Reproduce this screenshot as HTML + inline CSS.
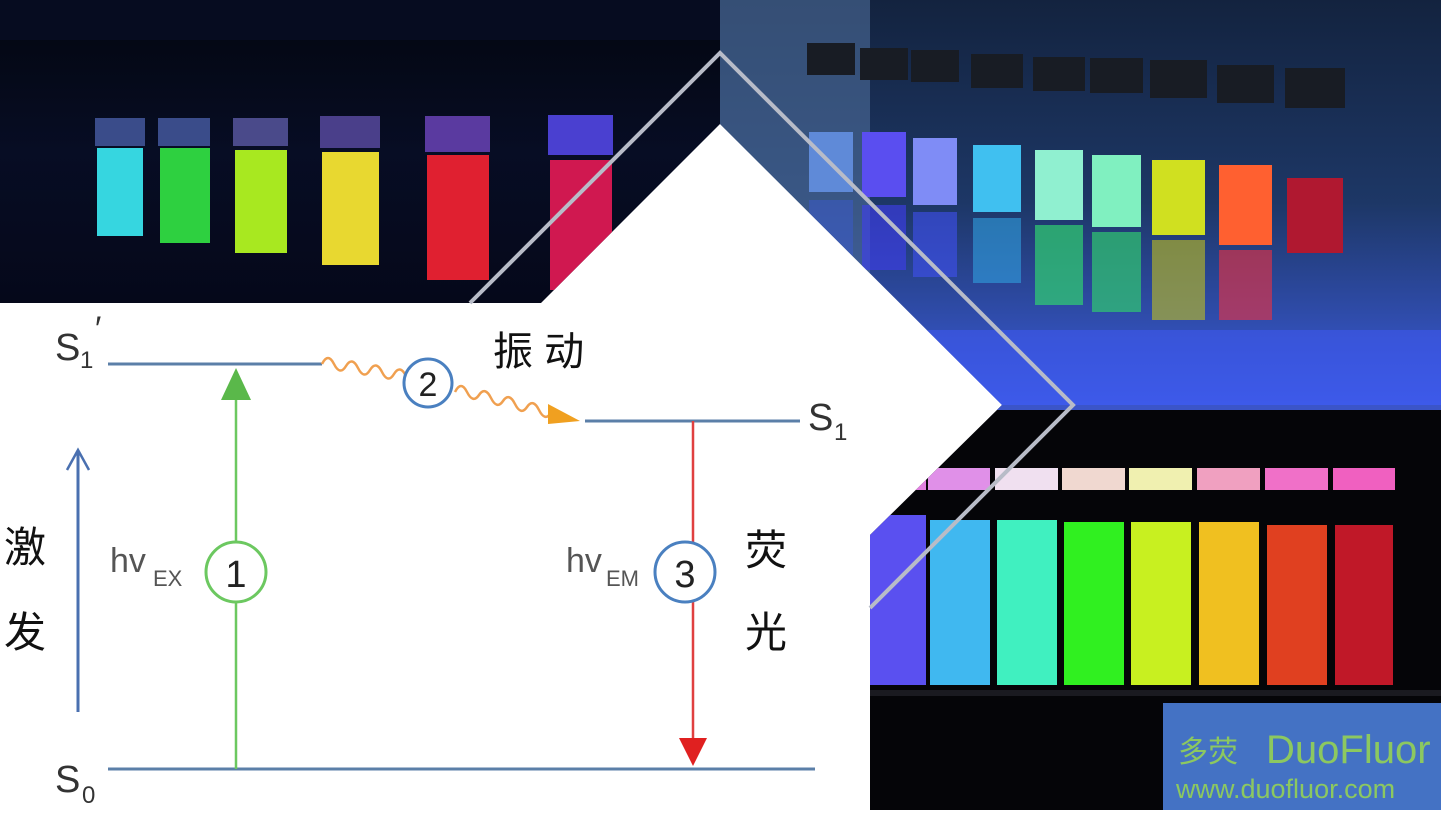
<!DOCTYPE html>
<html><head><meta charset="utf-8"><style>
html,body{margin:0;padding:0;background:#fff;width:1441px;height:822px;overflow:hidden}
svg{display:block}
text{font-family:"Liberation Sans","Noto Sans CJK SC",sans-serif}
</style></head><body>
<svg width="1441" height="822" viewBox="0 0 1441 822" xmlns="http://www.w3.org/2000/svg">
<defs>
<linearGradient id="tr" x1="0" y1="0" x2="0" y2="1">
<stop offset="0" stop-color="#13233f"/><stop offset="0.5" stop-color="#1d3766"/><stop offset="1" stop-color="#3d5ce0"/></linearGradient>
<linearGradient id="tl" x1="0" y1="0" x2="0" y2="1">
<stop offset="0" stop-color="#03060f"/><stop offset="0.5" stop-color="#070d24"/><stop offset="1" stop-color="#05081a"/></linearGradient>
<clipPath id="ctl"><polygon points="0,0 720,0 720,124 541,303 0,303"/></clipPath>
<clipPath id="ctr"><polygon points="720,0 1441,0 1441,405 1002,405 720,124"/></clipPath>
<clipPath id="cbr"><polygon points="1002,405 1441,405 1441,810 870,810 870,535"/></clipPath>
</defs>

<g clip-path="url(#ctl)">
<rect x="0" y="0" width="720" height="303" fill="url(#tl)"/>
<rect x="0" y="0" width="720" height="40" fill="#060c20"/>
<g>
<rect x="95" y="118" width="50" height="28" fill="#3a4c8a"/><rect x="97" y="148" width="46" height="88" fill="#36d6e0"/>
<rect x="158" y="118" width="52" height="28" fill="#3a4c8a"/><rect x="160" y="148" width="50" height="95" fill="#2ed040"/>
<rect x="233" y="118" width="55" height="28" fill="#4a4a8a"/><rect x="235" y="150" width="52" height="103" fill="#a8e820"/>
<rect x="320" y="116" width="60" height="32" fill="#4a3f8a"/><rect x="322" y="152" width="57" height="113" fill="#e8d830"/>
<rect x="425" y="116" width="65" height="36" fill="#5a3aa0"/><rect x="427" y="155" width="62" height="125" fill="#e02030"/>
<rect x="548" y="115" width="65" height="40" fill="#4a40d0"/><rect x="550" y="160" width="62" height="130" fill="#d01850"/>
</g>
</g>

<g clip-path="url(#ctr)">
<rect x="720" y="0" width="721" height="405" fill="url(#tr)"/>
<rect x="720" y="0" width="150" height="405" fill="#4d6c9a" opacity="0.6"/>
<rect x="720" y="330" width="721" height="75" fill="#3e58f0" opacity="0.6"/>
<g>
<rect x="807" y="43" width="48" height="32" fill="#181c24"/><rect x="809" y="132" width="44" height="60" fill="#5f8ad8"/><rect x="809" y="200" width="44" height="60" fill="#3a5ad0" opacity="0.5"/>
<rect x="860" y="48" width="48" height="32" fill="#181c24"/><rect x="862" y="132" width="44" height="65" fill="#5a4ef0"/><rect x="862" y="205" width="44" height="65" fill="#3f3ef0" opacity="0.6"/>
<rect x="911" y="50" width="48" height="32" fill="#181c24"/><rect x="913" y="138" width="44" height="67" fill="#7f8cf6"/><rect x="913" y="212" width="44" height="65" fill="#4050f0" opacity="0.6"/>
<rect x="971" y="54" width="52" height="34" fill="#181c24"/><rect x="973" y="145" width="48" height="67" fill="#40c0f0"/><rect x="973" y="218" width="48" height="65" fill="#30a0e0" opacity="0.6"/>
<rect x="1033" y="57" width="52" height="34" fill="#181c24"/><rect x="1035" y="150" width="48" height="70" fill="#90f0d0"/><rect x="1035" y="225" width="48" height="80" fill="#30d070" opacity="0.7"/>
<rect x="1090" y="58" width="53" height="35" fill="#181c24"/><rect x="1092" y="155" width="49" height="72" fill="#80f0c0"/><rect x="1092" y="232" width="49" height="80" fill="#30c870" opacity="0.7"/>
<rect x="1150" y="60" width="57" height="38" fill="#181c24"/><rect x="1152" y="160" width="53" height="75" fill="#d0e020"/><rect x="1152" y="240" width="53" height="80" fill="#c0c020" opacity="0.6"/>
<rect x="1217" y="65" width="57" height="38" fill="#181c24"/><rect x="1219" y="165" width="53" height="80" fill="#ff6030"/><rect x="1219" y="250" width="53" height="70" fill="#f03040" opacity="0.6"/>
<rect x="1285" y="68" width="60" height="40" fill="#181c24"/><rect x="1287" y="178" width="56" height="75" fill="#b01830"/>
</g>
</g>

<g clip-path="url(#cbr)">
<rect x="870" y="405" width="571" height="405" fill="#050508"/>
<rect x="870" y="405" width="571" height="5" fill="#3b55c8"/>
<g>
<rect x="870" y="468" width="56" height="22" fill="#e080e0"/><rect x="870" y="515" width="56" height="170" fill="#5a50f0"/>
<rect x="928" y="468" width="62" height="22" fill="#e090e8"/><rect x="930" y="520" width="60" height="165" fill="#40b8f0"/>
<rect x="995" y="468" width="63" height="22" fill="#f0e0f0"/><rect x="997" y="520" width="60" height="165" fill="#40f0c0"/>
<rect x="1062" y="468" width="63" height="22" fill="#f0d8d0"/><rect x="1064" y="522" width="60" height="163" fill="#30f020"/>
<rect x="1129" y="468" width="63" height="22" fill="#f0f0b0"/><rect x="1131" y="522" width="60" height="163" fill="#c8f020"/>
<rect x="1197" y="468" width="63" height="22" fill="#f0a0c0"/><rect x="1199" y="522" width="60" height="163" fill="#f0c020"/>
<rect x="1265" y="468" width="63" height="22" fill="#f070c8"/><rect x="1267" y="525" width="60" height="160" fill="#e04020"/>
<rect x="1333" y="468" width="62" height="22" fill="#f060c0"/><rect x="1335" y="525" width="58" height="160" fill="#c01828"/>
</g>
<rect x="870" y="690" width="571" height="6" fill="#1a1a20"/>
</g>

<polyline points="470,303 720,53 1073,405 870,608" fill="none" stroke="#b8bcc8" stroke-width="4"/>

<rect x="1163" y="703" width="278" height="107" fill="#4472c4"/>
<text x="1178" y="762" font-size="30" fill="#8cc860" font-family="'Noto Sans CJK SC',sans-serif">多荧</text>
<text x="1266" y="763" font-size="40" fill="#8cc860">DuoFluor</text>
<text x="1176" y="798" font-size="27" fill="#8cc860">www.duofluor.com</text>

<g stroke="#5b7fa8" stroke-width="3">
<line x1="108" y1="364" x2="322" y2="364"/>
<line x1="585" y1="421" x2="800" y2="421"/>
<line x1="108" y1="769" x2="815" y2="769"/>
</g>
<line x1="78" y1="712" x2="78" y2="452" stroke="#4a70b0" stroke-width="3"/>
<polyline points="67,470 78,450 89,470" fill="none" stroke="#4a70b0" stroke-width="2.5"/>
<line x1="236" y1="769" x2="236" y2="390" stroke="#6cc860" stroke-width="2.5"/>
<polygon points="221,400 251,400 236,368" fill="#5ab84a"/>
<circle cx="236" cy="572" r="30" fill="#fff" stroke="#6cc860" stroke-width="3"/>
<text x="236" y="587" font-size="38" text-anchor="middle" fill="#222">1</text>
<text x="110" y="572" font-size="34" fill="#555">hv</text>
<text x="153" y="586" font-size="22" fill="#555">EX</text>
<line x1="693" y1="421" x2="693" y2="740" stroke="#e04040" stroke-width="2.5"/>
<polygon points="679,738 707,738 693,766" fill="#e02020"/>
<circle cx="685" cy="572" r="30" fill="#fff" stroke="#4a80c0" stroke-width="3"/>
<text x="685" y="587" font-size="38" text-anchor="middle" fill="#222">3</text>
<text x="566" y="572" font-size="34" fill="#555">hv</text>
<text x="606" y="586" font-size="22" fill="#555">EM</text>
<path d="M322,364 q6,-12 12,0 t12,2 t12,2 t12,2 t12,2 t12,2 t12,2" fill="none" stroke="#f0a050" stroke-width="2.5"/>
<path d="M455,392 q6,-12 12,0 t12,3 t12,3 t12,3 t12,3 t12,3 t12,3 t12,3" fill="none" stroke="#f0a050" stroke-width="2.5"/>
<polygon points="548,404 580,421 548,424" fill="#f0a020"/>
<circle cx="428" cy="383" r="24" fill="#fff" stroke="#4a80c0" stroke-width="3"/>
<text x="428" y="396" font-size="34" text-anchor="middle" fill="#222">2</text>
<text x="55" y="360" font-size="38" fill="#333">S</text><text x="80" y="368" font-size="24" fill="#333">1</text><text x="95" y="340" font-size="34" fill="#333">′</text>
<text x="808" y="430" font-size="38" fill="#333">S</text><text x="834" y="440" font-size="24" fill="#333">1</text>
<text x="55" y="792" font-size="38" fill="#333">S</text><text x="82" y="803" font-size="24" fill="#333">0</text>
<g font-size="42" fill="#111" font-family="'Noto Sans CJK SC',sans-serif">
<text x="4" y="562">激</text>
<text x="4" y="647">发</text>
<text x="745" y="565">荧</text>
<text x="745" y="647">光</text>
<text x="493" y="365" font-size="40">振 动</text>
</g>
</svg>
</body></html>
